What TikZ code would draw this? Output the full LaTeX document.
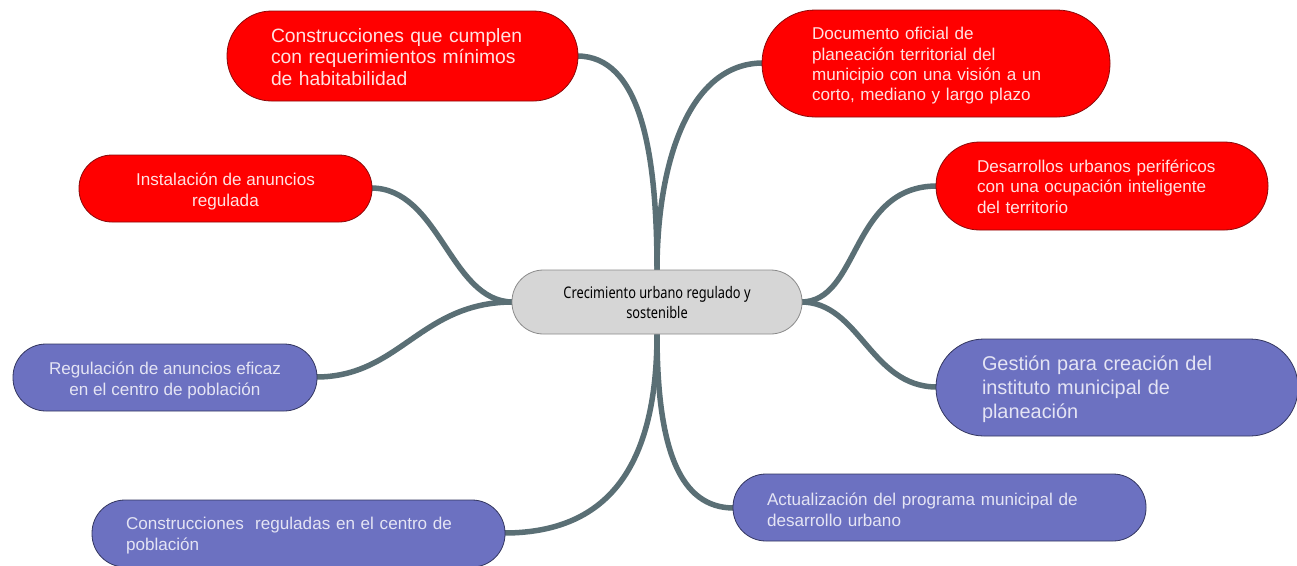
\documentclass[tikz,border=0pt]{standalone}
\usepackage{fontspec}
\setmainfont{Liberation Sans}
\newfontfamily\condfont[FakeStretch=0.80]{Noto Sans}
\definecolor{redfill}{HTML}{FF0000}
\definecolor{redline}{HTML}{8A0A0A}
\definecolor{redtext}{HTML}{FFE2E2}
\definecolor{bluefill}{HTML}{6C71C1}
\definecolor{blueline}{HTML}{33365F}
\definecolor{bluetext}{HTML}{E4E4F4}
\definecolor{hubfill}{HTML}{D6D6D6}
\definecolor{hubline}{HTML}{8A8A8A}
\definecolor{branchcol}{HTML}{5A6F75}
\tikzset{
  pill/.style={draw, line width=0.8pt, inner sep=0pt, rectangle},
  redbox/.style={pill, fill=redfill, draw=redline},
  bluebox/.style={pill, fill=bluefill, draw=blueline},
  redtxt/.style={inner sep=0pt, text=redtext},
  bluetxt/.style={inner sep=0pt, text=bluetext},
  hubbox/.style={pill, fill=hubfill, draw=hubline, text=black, font=\condfont\fontsize{16}{20}\selectfont, align=center},
  branch/.style={draw=branchcol, line width=5.5pt, line cap=round},
}
\begin{document}
\begin{tikzpicture}[x=1pt,y=-1pt]
\useasboundingbox (0,0) rectangle (1297,565);
% branches (drawn first, below nodes)
\coordinate (ct) at (657,271);
\coordinate (cb) at (657,333);
\coordinate (cl) at (513,302);
\coordinate (cr) at (801,302);
\coordinate (tl) at (577,56);
\coordinate (tr) at (763,63);
\coordinate (ins) at (371,188);
\coordinate (reg) at (316,377);
\coordinate (des) at (937,186);
\coordinate (ges) at (937,387);
\coordinate (con) at (504,533);
\coordinate (act) at (734,508);
\draw[branch] (ct) .. controls (657,150) and (640,56) .. (tl);
\draw[branch] (ct) .. controls (657,160) and (690,63) .. (tr);
\draw[branch] (cl) .. controls (450,302) and (440,188) .. (ins);
\draw[branch] (cl) .. controls (420,302) and (400,377) .. (reg);
\draw[branch] (cr) .. controls (860,302) and (850,186) .. (des);
\draw[branch] (cr) .. controls (860,302) and (870,387) .. (ges);
\draw[branch] (cb) .. controls (657,450) and (620,533) .. (con);
\draw[branch] (cb) .. controls (657,450) and (680,508) .. (act);
% nodes
\node[redbox, minimum width=351pt, minimum height=90pt, rounded corners=44.5pt,
  label={[redtxt, text width=263pt, align=left, font=\fontsize{19.3}{21.5}\selectfont, yshift=-1pt]center:{Construcciones que cumplen\\con requerimientos mínimos\\de habitabilidad}}]
  (n1) at (402.5,56) {};
\node[redbox, minimum width=348pt, minimum height=107pt, rounded corners=53pt,
  label={[redtxt, text width=248pt, align=left, font=\fontsize{17.1}{20.3}\selectfont, yshift=-2.5pt]center:{Documento oficial de\\planeación territorial del\\municipio con una visión a un\\corto, mediano y largo plazo}}]
  (n2) at (936,63.5) {};
\node[redbox, minimum width=293pt, minimum height=67pt, rounded corners=33pt,
  label={[redtxt, align=center, font=\fontsize{17.1}{21}\selectfont, yshift=-2.5pt]center:{Instalación de anuncios\\regulada}}]
  (n3) at (225.5,188.5) {};
\node[redbox, minimum width=332pt, minimum height=88pt, rounded corners=43.5pt,
  label={[redtxt, text width=250pt, align=left, font=\fontsize{17.1}{20.5}\selectfont, yshift=-0.5pt]center:{Desarrollos urbanos periféricos\\con una ocupación inteligente\\del territorio}}]
  (n4) at (1102,186) {};
\node[bluebox, minimum width=362pt, minimum height=97pt, rounded corners=48pt,
  label={[bluetxt, text width=270pt, align=left, font=\fontsize{19.9}{24}\selectfont, yshift=-2pt]center:{Gestión para creación del\\instituto municipal de\\planeación}}]
  (n5) at (1117,387.5) {};
\node[bluebox, minimum width=304pt, minimum height=67pt, rounded corners=33pt,
  label={[bluetxt, align=center, font=\fontsize{17.1}{21}\selectfont, yshift=-2.5pt]center:{Regulación de anuncios eficaz\\en el centro de población}}]
  (n6) at (165,377.5) {};
\node[bluebox, minimum width=413pt, minimum height=67pt, rounded corners=33pt,
  label={[bluetxt, text width=345pt, align=left, font=\fontsize{17.1}{21}\selectfont, yshift=-2.5pt]center:{Construcciones\ \ reguladas en el centro de\\población}}]
  (n7) at (298.5,533.5) {};
\node[bluebox, minimum width=413pt, minimum height=67pt, rounded corners=33pt,
  label={[bluetxt, text width=345pt, align=left, font=\fontsize{17.1}{21}\selectfont, yshift=-2pt]center:{Actualización del programa municipal de\\desarrollo urbano}}]
  (n8) at (939.5,507.5) {};
\node[hubbox, minimum width=290pt, minimum height=64pt, rounded corners=31.5pt]
  (hub) at (657,302) {Crecimiento urbano regulado y\\sostenible};
\end{tikzpicture}
\end{document}
